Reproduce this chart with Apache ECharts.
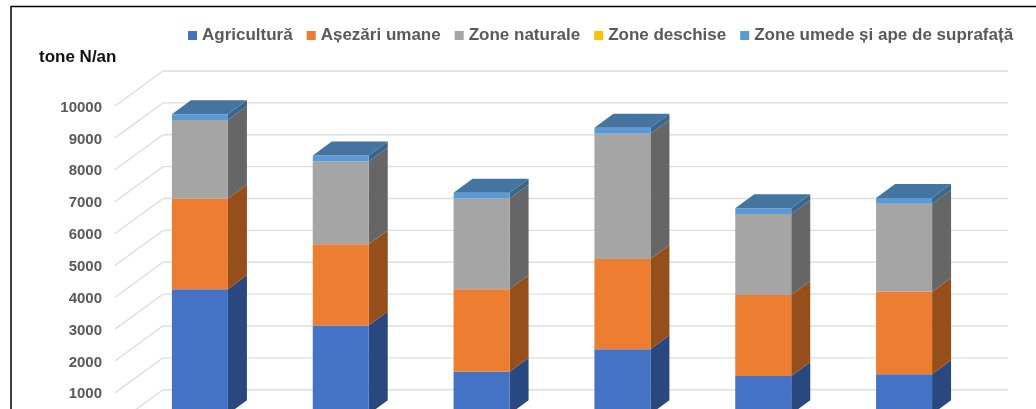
<!DOCTYPE html>
<html>
<head>
<meta charset="utf-8">
<style>html,body{margin:0;padding:0;background:#fff;overflow:hidden}#c{width:1036px;height:409px}</style>
<script src="https://cdn.jsdelivr.net/npm/echarts@6/dist/echarts.min.js"></script>
</head>
<body>
<div id="c"></div>
<script>
const categories = ['1', '2', '3', '4', '5', '6'];
const tickValues = [0, 1000, 2000, 3000, 4000, 5000, 6000, 7000, 8000, 9000, 10000];
const agricultura = [3920, 2780, 1330, 2040, 1200, 1250];
const asezari = [2850, 2550, 2590, 2830, 2540, 2590];
const naturale = [2460, 2600, 2850, 3930, 2540, 2760];
const deschise = [0, 0, 0, 0, 0, 0];
const umede = [180, 190, 180, 190, 180, 180];
const seriesNames = ['Agricultură', 'Așezări umane', 'Zone naturale', 'Zone deschise', 'Zone umede și ape de suprafață'];
const seriesValues = [agricultura, asezari, naturale, deschise, umede];
const frontColors = ['#4472C4', '#ED7D31', '#A5A5A5', '#FFC000', '#5B9BD5'];
const sideColors = ['#2A4880', '#964F1B', '#666666', '#A07800', '#39668C'];
const topColor = '#44749F';

const FONT = '"Liberation Sans", Arial, sans-serif';
const WALL_DX = 48, WALL_DY = -35;      // depth of the floor / side wall
const BAR_DX = 19, BAR_DY = -14;        // depth of a bar
const BAR_W = 56;
const GAP_DX = (WALL_DX - BAR_DX) / 2, GAP_DY = (WALL_DY - BAR_DY) / 2;

const chart = echarts.init(document.getElementById('c'), null, {renderer: 'canvas'});
const running = categories.map(() => 0);

function barRender(idx) {
  return function (params, api) {
    const cat = api.value(0), lo = api.value(1), hi = api.value(2);
    const a = api.coord([cat, lo]), b = api.coord([cat, hi]);
    const xl = a[0] + GAP_DX - BAR_W / 2, xr = xl + BAR_W;
    const y0 = a[1] + GAP_DY, y1 = b[1] + GAP_DY;
    const kids = [];
    if (y0 - y1 > 0.01) {
      kids.push({type: 'polygon', shape: {points: [[xr, y0], [xr + BAR_DX, y0 + BAR_DY], [xr + BAR_DX, y1 + BAR_DY], [xr, y1]]},
        style: {fill: sideColors[idx]}});
      kids.push({type: 'rect', shape: {x: xl, y: y1, width: BAR_W, height: y0 - y1},
        style: {fill: frontColors[idx]}});
    }
    if (idx === seriesValues.length - 1) {
      kids.push({type: 'polygon', shape: {points: [[xl, y1], [xr, y1], [xr + BAR_DX, y1 + BAR_DY], [xl + BAR_DX, y1 + BAR_DY]]},
        style: {fill: topColor}});
    }
    return {type: 'group', children: kids};
  };
}

const barSeries = seriesNames.map((name, idx) => {
  const data = seriesValues[idx].map((v, c) => {
    const lo = running[c]; running[c] += v;
    return [c, lo, running[c]];
  });
  return {
    name, type: 'custom', renderItem: barRender(idx), data, z: 5 + idx,
    encode: {x: 0, y: [1, 2]}, itemStyle: {color: frontColors[idx]}, silent: true, animation: false
  };
});

const wallSeries = {
  type: 'custom', silent: true, animation: false, z: 1,
  data: tickValues.map(v => [0, v]),
  encode: {x: 0, y: 1},
  renderItem(params, api) {
    const p = api.coord([0, api.value(1)]);
    const left = params.coordSys.x, right = params.coordSys.x + params.coordSys.width;
    return {type: 'polyline', shape: {points: [[left, p[1]], [left + WALL_DX, p[1] + WALL_DY], [right + WALL_DX, p[1] + WALL_DY]]},
      style: {fill: null, stroke: '#DEDEDE', lineWidth: 1.4}};
  }
};

chart.setOption({
  animation: false,
  backgroundColor: '#fff',
  title: {text: 'tone N/an', left: 39, top: 49, padding: 0,
    textStyle: {fontFamily: FONT, fontWeight: 'bold', fontSize: 17, color: '#111'}},
  legend: {left: 188, top: 27, padding: 0, itemWidth: 9, itemHeight: 9, itemGap: 14, icon: 'rect',
    data: seriesNames, selectedMode: false,
    textStyle: {fontFamily: FONT, fontWeight: 'bold', fontSize: 17, color: '#595959'}},
  grid: {left: 115, width: 845, top: 106, height: 318.7, outerBoundsMode: 'none', containLabel: false},
  xAxis: {type: 'category', data: categories, axisLine: {show: false}, axisTick: {show: false}, axisLabel: {show: false}},
  yAxis: {type: 'value', min: 0, max: 10000, interval: 1000, splitLine: {show: false}, axisLine: {show: false}, axisTick: {show: false},
    axisLabel: {margin: 13, formatter: v => '{t|' + v + '}',
      rich: {t: {padding: [3, 0, 0, 0], fontFamily: FONT, fontWeight: 'bold', fontSize: 15, color: '#595959'}}}},
  graphic: [
    {type: 'line', shape: {x1: 11, y1: 6.5, x2: 1036, y2: 6.5}, style: {stroke: '#000', lineWidth: 1.5}, silent: true},
    {type: 'line', shape: {x1: 11, y1: 6, x2: 11, y2: 409}, style: {stroke: '#000', lineWidth: 1.5}, silent: true}
  ],
  series: [wallSeries].concat(barSeries)
});
</script>
</body>
</html>
